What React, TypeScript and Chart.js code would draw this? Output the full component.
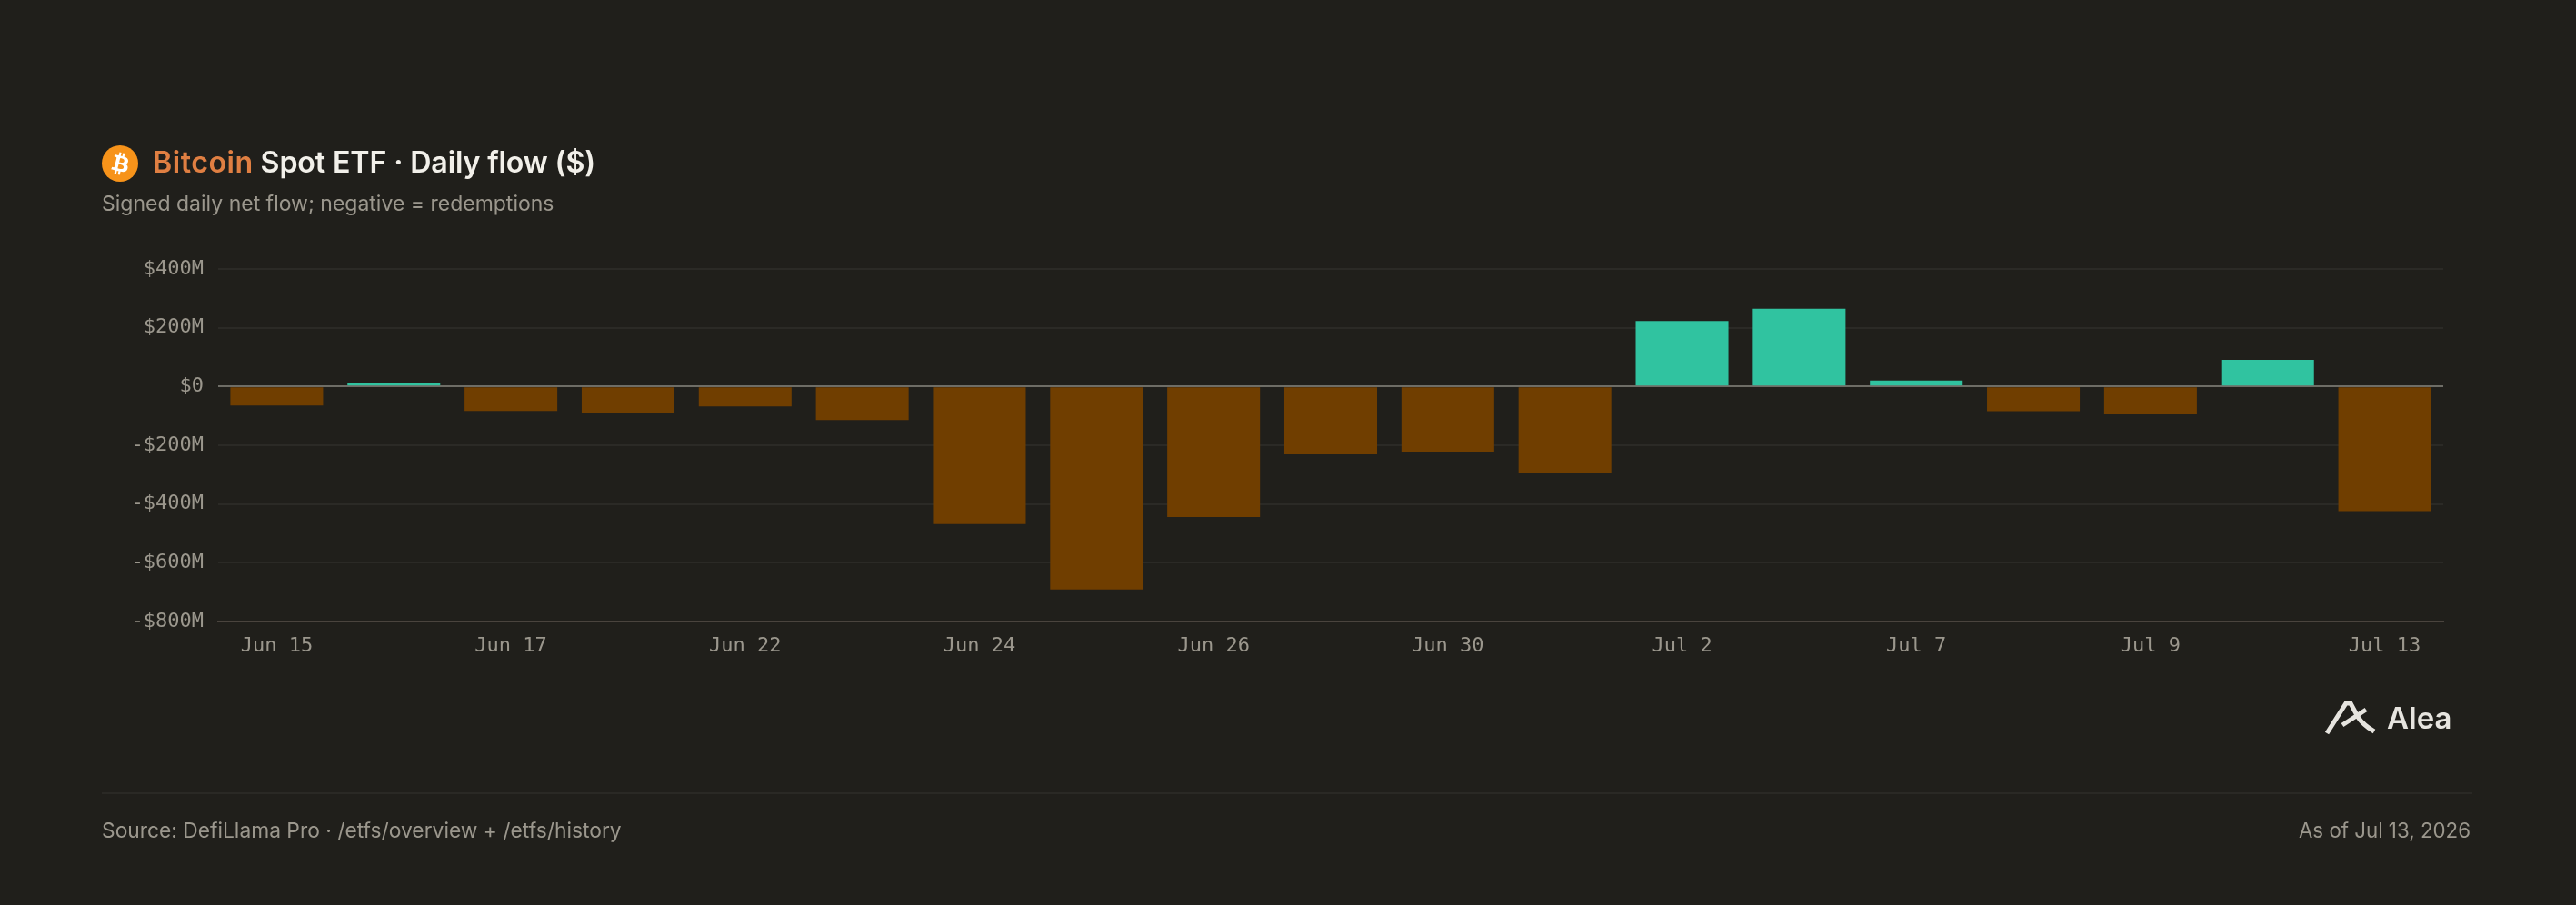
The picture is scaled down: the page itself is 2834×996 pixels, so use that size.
import React, { useEffect, useRef } from "react";
import { Chart, registerables } from "chart.js";

Chart.register(...registerables);

const categories = ["Jun 15","Jun 16","Jun 17","Jun 18","Jun 22","Jun 23","Jun 24","Jun 25","Jun 26","Jun 29","Jun 30","Jul 1","Jul 2","Jul 6","Jul 7","Jul 8","Jul 9","Jul 10","Jul 13"];
const flowMillions = [-65, 10, -83, -92, -68, -114, -468, -691, -444, -231, -222, -296, 223, 265, 20, -84, -95, 91, -424];

const BG = "#201f1b";
const TEAL = "#30c3a0";
const BROWN = "#703e00";
const MONO = "'DejaVu Sans Mono', monospace";
const SANS = "Inter, 'Noto Sans', sans-serif";
const MUTED = "#9b978d";
const BTC_PATH = "M23.189 14.02c.314-2.096-1.283-3.223-3.465-3.975l.708-2.84-1.728-.43-.69 2.765c-.454-.114-.92-.22-1.385-.326l.695-2.783L15.596 6l-.708 2.839c-.376-.086-.746-.17-1.104-.26l.002-.009-2.384-.595-.46 1.846s1.283.294 1.256.312c.7.175.826.638.805 1.006l-.806 3.235c.048.012.11.03.18.057l-.183-.045-1.13 4.532c-.086.212-.303.531-.793.41.018.025-1.256-.313-1.256-.313l-.858 1.978 2.25.561c.418.105.828.215 1.231.318l-.715 2.872 1.727.43.708-2.84c.472.127.93.245 1.378.357l-.706 2.828 1.728.43.715-2.866c2.948.558 5.164.333 6.097-2.333.752-2.146-.037-3.385-1.588-4.192 1.13-.26 1.98-1.003 2.207-2.538zm-3.95 5.538c-.533 2.147-4.148.986-5.32.695l.95-3.805c1.172.293 4.929.872 4.37 3.11zm.535-5.569c-.487 1.953-3.495.96-4.47.717l.86-3.45c.975.243 4.118.696 3.61 2.733z";

function fmt(v: number) {
  return v < 0 ? `-$${Math.abs(v)}M` : `$${v}M`.replace("$0M", "$0");
}

export default function App() {
  const ref = useRef<HTMLCanvasElement | null>(null);
  useEffect(() => {
    document.body.style.margin = "0";
    document.body.style.background = BG;
    const chart = new Chart(ref.current!, {
      type: "bar",
      data: {
        labels: categories,
        datasets: [{
          data: flowMillions,
          backgroundColor: flowMillions.map((v) => (v >= 0 ? TEAL : BROWN)),
          borderWidth: 0,
          barPercentage: 0.792,
          categoryPercentage: 1,
        }],
      },
      options: {
        animation: false,
        responsive: false,
        devicePixelRatio: 1,
        layout: { padding: { left: 100, right: 146, top: 296, bottom: 262 } },
        plugins: { legend: { display: false }, tooltip: { enabled: false } },
        scales: {
          x: {
            grid: { display: false },
            border: { display: true, color: "#4a443e", width: 2 },
            afterFit: (s: any) => { s.height = 50; },
            ticks: {
              autoSkip: false, maxRotation: 0, padding: 6,
              color: MUTED, font: { family: MONO, size: 22 },
              callback: (_v: any, i: number) => (i % 2 === 0 ? categories[i] : ""),
            },
          },
          y: {
            min: -800, max: 400,
            border: { display: false },
            afterFit: (s: any) => { s.width = 140; },
            grid: {
              drawTicks: false, lineWidth: 2,
              color: (c: any) => c.tick.value === 0 ? "#6e6d66" : c.tick.value === -800 ? "rgba(0,0,0,0)" : "#2b2a26",
            },
            ticks: {
              stepSize: 200, padding: 16,
              color: MUTED, font: { family: MONO, size: 22 },
              callback: (v: any) => fmt(Number(v)),
            },
          },
        },
      },
    });
    return () => chart.destroy();
  }, []);

  const abs = (s: React.CSSProperties): React.CSSProperties => ({ position: "absolute", whiteSpace: "nowrap", ...s });
  return (
    <div style={{ position: "relative", width: 2834, height: 996, background: BG, overflow: "hidden" }}>
      <canvas ref={ref} width={2834} height={996} style={{ position: "absolute", left: 0, top: 0, width: 2834, height: 996 }} />
      <svg style={abs({ left: 112, top: 160 })} width={40} height={40} viewBox="0 0 32 32">
        <circle cx={16} cy={16} r={16} fill="#f7931a" />
        <path d={BTC_PATH} fill="#fff" />
      </svg>
      <div style={abs({ left: 168, top: 156, fontFamily: SANS, fontSize: 32.2, fontWeight: 600, lineHeight: "46px", color: "#f2f0ea", letterSpacing: "-0.15px" })}>
        <span style={{ color: "#e07f42", letterSpacing: "0.5px" }}>Bitcoin</span> Spot ETF · Daily flow ($)
      </div>
      <div style={abs({ left: 112, top: 208, fontFamily: SANS, fontSize: 23, lineHeight: "32px", color: MUTED })}>
        Signed daily net flow; negative = redemptions
      </div>
      <svg style={abs({ left: 2550, top: 765 })} width={70} height={50} viewBox="0 0 70 50">
        <path d="M10 42 L31 9 L36 9 L44 24 Q50 33 62 40" fill="none" stroke="#e6e4df" strokeWidth={5} />
        <path d="M27 33 L53 16" fill="none" stroke="#e6e4df" strokeWidth={5} />
      </svg>
      <div style={abs({ left: 2626, top: 770, fontFamily: SANS, fontSize: 33, fontWeight: 600, lineHeight: "40px", color: "#e6e4df" })}>Alea</div>
      <div style={abs({ left: 112, top: 872, width: 2608, height: 2, background: "#2a2925" })} />
      <div style={abs({ left: 112, top: 898, fontFamily: SANS, fontSize: 22.8, lineHeight: "32px", color: MUTED })}>
        Source: DefiLlama Pro · /etfs/overview + /etfs/history
      </div>
      <div style={abs({ right: 116, top: 898, fontFamily: SANS, fontSize: 22.3, lineHeight: "32px", color: MUTED })}>
        As of Jul 13, 2026
      </div>
    </div>
  );
}
